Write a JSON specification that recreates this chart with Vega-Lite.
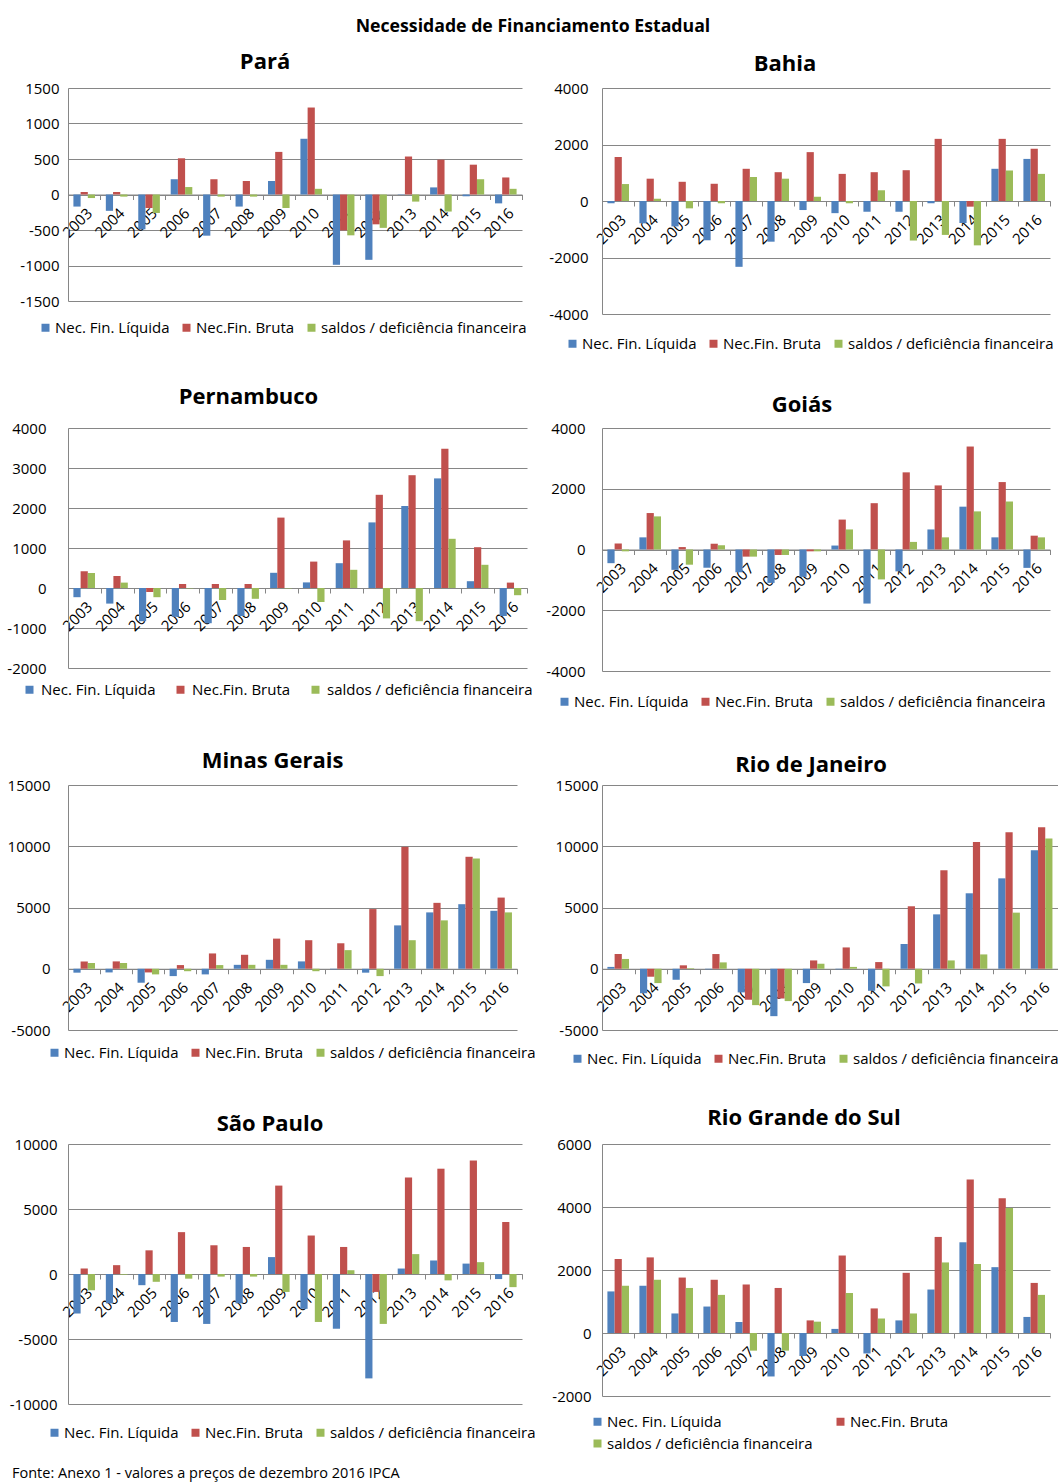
{
"$schema": "https://vega.github.io/schema/vega-lite/v6.json",
"title": {"text": "Necessidade de Financiamento Estadual", "fontSize": 17.7, "anchor": "middle", "frame": "bounds", "offset": 15},
"padding": {"left": 6, "top": 18, "right": 0, "bottom": 0},
"columns": 2,
"bounds": "flush",
"spacing": {"row": 114, "column": 75},
"resolve": {"scale": {"x": "independent", "y": "independent", "color": "independent"}, "legend": {"color": "independent"}},
"data": {"values": [
{"uf":"Pará","ano":"2003","serie":"liq","valor":-170},{"uf":"Pará","ano":"2003","serie":"bruta","valor":35},{"uf":"Pará","ano":"2003","serie":"saldo","valor":-50},
{"uf":"Pará","ano":"2004","serie":"liq","valor":-230},{"uf":"Pará","ano":"2004","serie":"bruta","valor":35},{"uf":"Pará","ano":"2004","serie":"saldo","valor":-30},
{"uf":"Pará","ano":"2005","serie":"liq","valor":-490},{"uf":"Pará","ano":"2005","serie":"bruta","valor":-190},{"uf":"Pará","ano":"2005","serie":"saldo","valor":-260},
{"uf":"Pará","ano":"2006","serie":"liq","valor":215},{"uf":"Pará","ano":"2006","serie":"bruta","valor":510},{"uf":"Pará","ano":"2006","serie":"saldo","valor":105},
{"uf":"Pará","ano":"2007","serie":"liq","valor":-580},{"uf":"Pará","ano":"2007","serie":"bruta","valor":215},{"uf":"Pará","ano":"2007","serie":"saldo","valor":-30},
{"uf":"Pará","ano":"2008","serie":"liq","valor":-170},{"uf":"Pará","ano":"2008","serie":"bruta","valor":190},{"uf":"Pará","ano":"2008","serie":"saldo","valor":-30},
{"uf":"Pará","ano":"2009","serie":"liq","valor":190},{"uf":"Pará","ano":"2009","serie":"bruta","valor":600},{"uf":"Pará","ano":"2009","serie":"saldo","valor":-190},
{"uf":"Pará","ano":"2010","serie":"liq","valor":785},{"uf":"Pará","ano":"2010","serie":"bruta","valor":1225},{"uf":"Pará","ano":"2010","serie":"saldo","valor":80},
{"uf":"Pará","ano":"2011","serie":"liq","valor":-990},{"uf":"Pará","ano":"2011","serie":"bruta","valor":-505},{"uf":"Pará","ano":"2011","serie":"saldo","valor":-575},
{"uf":"Pará","ano":"2012","serie":"liq","valor":-920},{"uf":"Pará","ano":"2012","serie":"bruta","valor":-420},{"uf":"Pará","ano":"2012","serie":"saldo","valor":-470},
{"uf":"Pará","ano":"2013","serie":"liq","valor":-5},{"uf":"Pará","ano":"2013","serie":"bruta","valor":535},{"uf":"Pará","ano":"2013","serie":"saldo","valor":-100},
{"uf":"Pará","ano":"2014","serie":"liq","valor":100},{"uf":"Pará","ano":"2014","serie":"bruta","valor":490},{"uf":"Pará","ano":"2014","serie":"saldo","valor":-240},
{"uf":"Pará","ano":"2015","serie":"liq","valor":-25},{"uf":"Pará","ano":"2015","serie":"bruta","valor":420},{"uf":"Pará","ano":"2015","serie":"saldo","valor":215},
{"uf":"Pará","ano":"2016","serie":"liq","valor":-125},{"uf":"Pará","ano":"2016","serie":"bruta","valor":240},{"uf":"Pará","ano":"2016","serie":"saldo","valor":80},
{"uf":"Bahia","ano":"2003","serie":"liq","valor":-80},{"uf":"Bahia","ano":"2003","serie":"bruta","valor":1560},{"uf":"Bahia","ano":"2003","serie":"saldo","valor":600},
{"uf":"Bahia","ano":"2004","serie":"liq","valor":-790},{"uf":"Bahia","ano":"2004","serie":"bruta","valor":790},{"uf":"Bahia","ano":"2004","serie":"saldo","valor":80},
{"uf":"Bahia","ano":"2005","serie":"liq","valor":-900},{"uf":"Bahia","ano":"2005","serie":"bruta","valor":680},{"uf":"Bahia","ano":"2005","serie":"saldo","valor":-260},
{"uf":"Bahia","ano":"2006","serie":"liq","valor":-1390},{"uf":"Bahia","ano":"2006","serie":"bruta","valor":610},{"uf":"Bahia","ano":"2006","serie":"saldo","valor":-80},
{"uf":"Bahia","ano":"2007","serie":"liq","valor":-2330},{"uf":"Bahia","ano":"2007","serie":"bruta","valor":1140},{"uf":"Bahia","ano":"2007","serie":"saldo","valor":850},
{"uf":"Bahia","ano":"2008","serie":"liq","valor":-1440},{"uf":"Bahia","ano":"2008","serie":"bruta","valor":1020},{"uf":"Bahia","ano":"2008","serie":"saldo","valor":790},
{"uf":"Bahia","ano":"2009","serie":"liq","valor":-320},{"uf":"Bahia","ano":"2009","serie":"bruta","valor":1730},{"uf":"Bahia","ano":"2009","serie":"saldo","valor":150},
{"uf":"Bahia","ano":"2010","serie":"liq","valor":-430},{"uf":"Bahia","ano":"2010","serie":"bruta","valor":960},{"uf":"Bahia","ano":"2010","serie":"saldo","valor":-80},
{"uf":"Bahia","ano":"2011","serie":"liq","valor":-380},{"uf":"Bahia","ano":"2011","serie":"bruta","valor":1020},{"uf":"Bahia","ano":"2011","serie":"saldo","valor":380},
{"uf":"Bahia","ano":"2012","serie":"liq","valor":-380},{"uf":"Bahia","ano":"2012","serie":"bruta","valor":1090},{"uf":"Bahia","ano":"2012","serie":"saldo","valor":-1400},
{"uf":"Bahia","ano":"2013","serie":"liq","valor":-80},{"uf":"Bahia","ano":"2013","serie":"bruta","valor":2200},{"uf":"Bahia","ano":"2013","serie":"saldo","valor":-1200},
{"uf":"Bahia","ano":"2014","serie":"liq","valor":-780},{"uf":"Bahia","ano":"2014","serie":"bruta","valor":-200},{"uf":"Bahia","ano":"2014","serie":"saldo","valor":-1570},
{"uf":"Bahia","ano":"2015","serie":"liq","valor":1140},{"uf":"Bahia","ano":"2015","serie":"bruta","valor":2200},{"uf":"Bahia","ano":"2015","serie":"saldo","valor":1080},
{"uf":"Bahia","ano":"2016","serie":"liq","valor":1490},{"uf":"Bahia","ano":"2016","serie":"bruta","valor":1850},{"uf":"Bahia","ano":"2016","serie":"saldo","valor":960},
{"uf":"Pernambuco","ano":"2003","serie":"liq","valor":-230},{"uf":"Pernambuco","ano":"2003","serie":"bruta","valor":420},{"uf":"Pernambuco","ano":"2003","serie":"saldo","valor":375},
{"uf":"Pernambuco","ano":"2004","serie":"liq","valor":-390},{"uf":"Pernambuco","ano":"2004","serie":"bruta","valor":300},{"uf":"Pernambuco","ano":"2004","serie":"saldo","valor":135},
{"uf":"Pernambuco","ano":"2005","serie":"liq","valor":-830},{"uf":"Pernambuco","ano":"2005","serie":"bruta","valor":-100},{"uf":"Pernambuco","ano":"2005","serie":"saldo","valor":-230},
{"uf":"Pernambuco","ano":"2006","serie":"liq","valor":-720},{"uf":"Pernambuco","ano":"2006","serie":"bruta","valor":100},{"uf":"Pernambuco","ano":"2006","serie":"saldo","valor":-10},
{"uf":"Pernambuco","ano":"2007","serie":"liq","valor":-880},{"uf":"Pernambuco","ano":"2007","serie":"bruta","valor":100},{"uf":"Pernambuco","ano":"2007","serie":"saldo","valor":-300},
{"uf":"Pernambuco","ano":"2008","serie":"liq","valor":-700},{"uf":"Pernambuco","ano":"2008","serie":"bruta","valor":100},{"uf":"Pernambuco","ano":"2008","serie":"saldo","valor":-270},
{"uf":"Pernambuco","ano":"2009","serie":"liq","valor":380},{"uf":"Pernambuco","ano":"2009","serie":"bruta","valor":1760},{"uf":"Pernambuco","ano":"2009","serie":"saldo","valor":-10},
{"uf":"Pernambuco","ano":"2010","serie":"liq","valor":140},{"uf":"Pernambuco","ano":"2010","serie":"bruta","valor":660},{"uf":"Pernambuco","ano":"2010","serie":"saldo","valor":-350},
{"uf":"Pernambuco","ano":"2011","serie":"liq","valor":620},{"uf":"Pernambuco","ano":"2011","serie":"bruta","valor":1190},{"uf":"Pernambuco","ano":"2011","serie":"saldo","valor":455},
{"uf":"Pernambuco","ano":"2012","serie":"liq","valor":1640},{"uf":"Pernambuco","ano":"2012","serie":"bruta","valor":2330},{"uf":"Pernambuco","ano":"2012","serie":"saldo","valor":-760},
{"uf":"Pernambuco","ano":"2013","serie":"liq","valor":2050},{"uf":"Pernambuco","ano":"2013","serie":"bruta","valor":2820},{"uf":"Pernambuco","ano":"2013","serie":"saldo","valor":-830},
{"uf":"Pernambuco","ano":"2014","serie":"liq","valor":2740},{"uf":"Pernambuco","ano":"2014","serie":"bruta","valor":3480},{"uf":"Pernambuco","ano":"2014","serie":"saldo","valor":1230},
{"uf":"Pernambuco","ano":"2015","serie":"liq","valor":170},{"uf":"Pernambuco","ano":"2015","serie":"bruta","valor":1020},{"uf":"Pernambuco","ano":"2015","serie":"saldo","valor":580},
{"uf":"Pernambuco","ano":"2016","serie":"liq","valor":-700},{"uf":"Pernambuco","ano":"2016","serie":"bruta","valor":135},{"uf":"Pernambuco","ano":"2016","serie":"saldo","valor":-180},
{"uf":"Goiás","ano":"2003","serie":"liq","valor":-450},{"uf":"Goiás","ano":"2003","serie":"bruta","valor":195},{"uf":"Goiás","ano":"2003","serie":"saldo","valor":-60},
{"uf":"Goiás","ano":"2004","serie":"liq","valor":400},{"uf":"Goiás","ano":"2004","serie":"bruta","valor":1200},{"uf":"Goiás","ano":"2004","serie":"saldo","valor":1090},
{"uf":"Goiás","ano":"2005","serie":"liq","valor":-670},{"uf":"Goiás","ano":"2005","serie":"bruta","valor":80},{"uf":"Goiás","ano":"2005","serie":"saldo","valor":-500},
{"uf":"Goiás","ano":"2006","serie":"liq","valor":-600},{"uf":"Goiás","ano":"2006","serie":"bruta","valor":190},{"uf":"Goiás","ano":"2006","serie":"saldo","valor":140},
{"uf":"Goiás","ano":"2007","serie":"liq","valor":-750},{"uf":"Goiás","ano":"2007","serie":"bruta","valor":-235},{"uf":"Goiás","ano":"2007","serie":"saldo","valor":-235},
{"uf":"Goiás","ano":"2008","serie":"liq","valor":-1100},{"uf":"Goiás","ano":"2008","serie":"bruta","valor":-180},{"uf":"Goiás","ano":"2008","serie":"saldo","valor":-180},
{"uf":"Goiás","ano":"2009","serie":"liq","valor":-900},{"uf":"Goiás","ano":"2009","serie":"bruta","valor":-60},{"uf":"Goiás","ano":"2009","serie":"saldo","valor":-60},
{"uf":"Goiás","ano":"2010","serie":"liq","valor":130},{"uf":"Goiás","ano":"2010","serie":"bruta","valor":985},{"uf":"Goiás","ano":"2010","serie":"saldo","valor":660},
{"uf":"Goiás","ano":"2011","serie":"liq","valor":-1780},{"uf":"Goiás","ano":"2011","serie":"bruta","valor":1525},{"uf":"Goiás","ano":"2011","serie":"saldo","valor":-985},
{"uf":"Goiás","ano":"2012","serie":"liq","valor":-720},{"uf":"Goiás","ano":"2012","serie":"bruta","valor":2540},{"uf":"Goiás","ano":"2012","serie":"saldo","valor":250},
{"uf":"Goiás","ano":"2013","serie":"liq","valor":660},{"uf":"Goiás","ano":"2013","serie":"bruta","valor":2110},{"uf":"Goiás","ano":"2013","serie":"saldo","valor":400},
{"uf":"Goiás","ano":"2014","serie":"liq","valor":1410},{"uf":"Goiás","ano":"2014","serie":"bruta","valor":3390},{"uf":"Goiás","ano":"2014","serie":"saldo","valor":1255},
{"uf":"Goiás","ano":"2015","serie":"liq","valor":400},{"uf":"Goiás","ano":"2015","serie":"bruta","valor":2220},{"uf":"Goiás","ano":"2015","serie":"saldo","valor":1580},
{"uf":"Goiás","ano":"2016","serie":"liq","valor":-605},{"uf":"Goiás","ano":"2016","serie":"bruta","valor":455},{"uf":"Goiás","ano":"2016","serie":"saldo","valor":400},
{"uf":"Minas Gerais","ano":"2003","serie":"liq","valor":-320},{"uf":"Minas Gerais","ano":"2003","serie":"bruta","valor":600},{"uf":"Minas Gerais","ano":"2003","serie":"saldo","valor":470},
{"uf":"Minas Gerais","ano":"2004","serie":"liq","valor":-300},{"uf":"Minas Gerais","ano":"2004","serie":"bruta","valor":600},{"uf":"Minas Gerais","ano":"2004","serie":"saldo","valor":470},
{"uf":"Minas Gerais","ano":"2005","serie":"liq","valor":-1140},{"uf":"Minas Gerais","ano":"2005","serie":"bruta","valor":-300},{"uf":"Minas Gerais","ano":"2005","serie":"saldo","valor":-460},
{"uf":"Minas Gerais","ano":"2006","serie":"liq","valor":-600},{"uf":"Minas Gerais","ano":"2006","serie":"bruta","valor":300},{"uf":"Minas Gerais","ano":"2006","serie":"saldo","valor":-200},
{"uf":"Minas Gerais","ano":"2007","serie":"liq","valor":-460},{"uf":"Minas Gerais","ano":"2007","serie":"bruta","valor":1250},{"uf":"Minas Gerais","ano":"2007","serie":"saldo","valor":300},
{"uf":"Minas Gerais","ano":"2008","serie":"liq","valor":320},{"uf":"Minas Gerais","ano":"2008","serie":"bruta","valor":1140},{"uf":"Minas Gerais","ano":"2008","serie":"saldo","valor":320},
{"uf":"Minas Gerais","ano":"2009","serie":"liq","valor":730},{"uf":"Minas Gerais","ano":"2009","serie":"bruta","valor":2460},{"uf":"Minas Gerais","ano":"2009","serie":"saldo","valor":320},
{"uf":"Minas Gerais","ano":"2010","serie":"liq","valor":600},{"uf":"Minas Gerais","ano":"2010","serie":"bruta","valor":2330},{"uf":"Minas Gerais","ano":"2010","serie":"saldo","valor":-200},
{"uf":"Minas Gerais","ano":"2011","serie":"liq","valor":-50},{"uf":"Minas Gerais","ano":"2011","serie":"bruta","valor":2080},{"uf":"Minas Gerais","ano":"2011","serie":"saldo","valor":1520},
{"uf":"Minas Gerais","ano":"2012","serie":"liq","valor":-320},{"uf":"Minas Gerais","ano":"2012","serie":"bruta","valor":4870},{"uf":"Minas Gerais","ano":"2012","serie":"saldo","valor":-600},
{"uf":"Minas Gerais","ano":"2013","serie":"liq","valor":3540},{"uf":"Minas Gerais","ano":"2013","serie":"bruta","valor":9950},{"uf":"Minas Gerais","ano":"2013","serie":"saldo","valor":2330},
{"uf":"Minas Gerais","ano":"2014","serie":"liq","valor":4600},{"uf":"Minas Gerais","ano":"2014","serie":"bruta","valor":5380},{"uf":"Minas Gerais","ano":"2014","serie":"saldo","valor":3950},
{"uf":"Minas Gerais","ano":"2015","serie":"liq","valor":5270},{"uf":"Minas Gerais","ano":"2015","serie":"bruta","valor":9140},{"uf":"Minas Gerais","ano":"2015","serie":"saldo","valor":9000},
{"uf":"Minas Gerais","ano":"2016","serie":"liq","valor":4730},{"uf":"Minas Gerais","ano":"2016","serie":"bruta","valor":5810},{"uf":"Minas Gerais","ano":"2016","serie":"saldo","valor":4600},
{"uf":"Rio de Janeiro","ano":"2003","serie":"liq","valor":150},{"uf":"Rio de Janeiro","ano":"2003","serie":"bruta","valor":1200},{"uf":"Rio de Janeiro","ano":"2003","serie":"saldo","valor":800},
{"uf":"Rio de Janeiro","ano":"2004","serie":"liq","valor":-2000},{"uf":"Rio de Janeiro","ano":"2004","serie":"bruta","valor":-650},{"uf":"Rio de Janeiro","ano":"2004","serie":"saldo","valor":-1170},
{"uf":"Rio de Janeiro","ano":"2005","serie":"liq","valor":-900},{"uf":"Rio de Janeiro","ano":"2005","serie":"bruta","valor":280},{"uf":"Rio de Janeiro","ano":"2005","serie":"saldo","valor":50},
{"uf":"Rio de Janeiro","ano":"2006","serie":"liq","valor":-50},{"uf":"Rio de Janeiro","ano":"2006","serie":"bruta","valor":1200},{"uf":"Rio de Janeiro","ano":"2006","serie":"saldo","valor":520},
{"uf":"Rio de Janeiro","ano":"2007","serie":"liq","valor":-1930},{"uf":"Rio de Janeiro","ano":"2007","serie":"bruta","valor":-2530},{"uf":"Rio de Janeiro","ano":"2007","serie":"saldo","valor":-2970},
{"uf":"Rio de Janeiro","ano":"2008","serie":"liq","valor":-3870},{"uf":"Rio de Janeiro","ano":"2008","serie":"bruta","valor":-2430},{"uf":"Rio de Janeiro","ano":"2008","serie":"saldo","valor":-2640},
{"uf":"Rio de Janeiro","ano":"2009","serie":"liq","valor":-1170},{"uf":"Rio de Janeiro","ano":"2009","serie":"bruta","valor":680},{"uf":"Rio de Janeiro","ano":"2009","serie":"saldo","valor":410},
{"uf":"Rio de Janeiro","ano":"2010","serie":"liq","valor":-50},{"uf":"Rio de Janeiro","ano":"2010","serie":"bruta","valor":1740},{"uf":"Rio de Janeiro","ano":"2010","serie":"saldo","valor":150},
{"uf":"Rio de Janeiro","ano":"2011","serie":"liq","valor":-1800},{"uf":"Rio de Janeiro","ano":"2011","serie":"bruta","valor":545},{"uf":"Rio de Janeiro","ano":"2011","serie":"saldo","valor":-1440},
{"uf":"Rio de Janeiro","ano":"2012","serie":"liq","valor":2020},{"uf":"Rio de Janeiro","ano":"2012","serie":"bruta","valor":5100},{"uf":"Rio de Janeiro","ano":"2012","serie":"saldo","valor":-1200},
{"uf":"Rio de Janeiro","ano":"2013","serie":"liq","valor":4440},{"uf":"Rio de Janeiro","ano":"2013","serie":"bruta","valor":8040},{"uf":"Rio de Janeiro","ano":"2013","serie":"saldo","valor":680},
{"uf":"Rio de Janeiro","ano":"2014","serie":"liq","valor":6160},{"uf":"Rio de Janeiro","ano":"2014","serie":"bruta","valor":10350},{"uf":"Rio de Janeiro","ano":"2014","serie":"saldo","valor":1170},
{"uf":"Rio de Janeiro","ano":"2015","serie":"liq","valor":7380},{"uf":"Rio de Janeiro","ano":"2015","serie":"bruta","valor":11140},{"uf":"Rio de Janeiro","ano":"2015","serie":"saldo","valor":4580},
{"uf":"Rio de Janeiro","ano":"2016","serie":"liq","valor":9670},{"uf":"Rio de Janeiro","ano":"2016","serie":"bruta","valor":11550},{"uf":"Rio de Janeiro","ano":"2016","serie":"saldo","valor":10630},
{"uf":"São Paulo","ano":"2003","serie":"liq","valor":-3040},{"uf":"São Paulo","ano":"2003","serie":"bruta","valor":420},{"uf":"São Paulo","ano":"2003","serie":"saldo","valor":-1250},
{"uf":"São Paulo","ano":"2004","serie":"liq","valor":-2260},{"uf":"São Paulo","ano":"2004","serie":"bruta","valor":680},{"uf":"São Paulo","ano":"2004","serie":"saldo","valor":-50},
{"uf":"São Paulo","ano":"2005","serie":"liq","valor":-860},{"uf":"São Paulo","ano":"2005","serie":"bruta","valor":1820},{"uf":"São Paulo","ano":"2005","serie":"saldo","valor":-600},
{"uf":"São Paulo","ano":"2006","serie":"liq","valor":-3690},{"uf":"São Paulo","ano":"2006","serie":"bruta","valor":3220},{"uf":"São Paulo","ano":"2006","serie":"saldo","valor":-360},
{"uf":"São Paulo","ano":"2007","serie":"liq","valor":-3840},{"uf":"São Paulo","ano":"2007","serie":"bruta","valor":2210},{"uf":"São Paulo","ano":"2007","serie":"saldo","valor":-200},
{"uf":"São Paulo","ano":"2008","serie":"liq","valor":-2260},{"uf":"São Paulo","ano":"2008","serie":"bruta","valor":2080},{"uf":"São Paulo","ano":"2008","serie":"saldo","valor":-200},
{"uf":"São Paulo","ano":"2009","serie":"liq","valor":1300},{"uf":"São Paulo","ano":"2009","serie":"bruta","valor":6800},{"uf":"São Paulo","ano":"2009","serie":"saldo","valor":-1380},
{"uf":"São Paulo","ano":"2010","serie":"liq","valor":-2680},{"uf":"São Paulo","ano":"2010","serie":"bruta","valor":2960},{"uf":"São Paulo","ano":"2010","serie":"saldo","valor":-3690},
{"uf":"São Paulo","ano":"2011","serie":"liq","valor":-4210},{"uf":"São Paulo","ano":"2011","serie":"bruta","valor":2080},{"uf":"São Paulo","ano":"2011","serie":"saldo","valor":290},
{"uf":"São Paulo","ano":"2012","serie":"liq","valor":-8030},{"uf":"São Paulo","ano":"2012","serie":"bruta","valor":-1380},{"uf":"São Paulo","ano":"2012","serie":"saldo","valor":-3840},
{"uf":"São Paulo","ano":"2013","serie":"liq","valor":420},{"uf":"São Paulo","ano":"2013","serie":"bruta","valor":7430},{"uf":"São Paulo","ano":"2013","serie":"saldo","valor":1530},
{"uf":"São Paulo","ano":"2014","serie":"liq","valor":1040},{"uf":"São Paulo","ano":"2014","serie":"bruta","valor":8100},{"uf":"São Paulo","ano":"2014","serie":"saldo","valor":-490},
{"uf":"São Paulo","ano":"2015","serie":"liq","valor":800},{"uf":"São Paulo","ano":"2015","serie":"bruta","valor":8730},{"uf":"São Paulo","ano":"2015","serie":"saldo","valor":910},
{"uf":"São Paulo","ano":"2016","serie":"liq","valor":-390},{"uf":"São Paulo","ano":"2016","serie":"bruta","valor":4000},{"uf":"São Paulo","ano":"2016","serie":"saldo","valor":-1010},
{"uf":"Rio Grande do Sul","ano":"2003","serie":"liq","valor":1320},{"uf":"Rio Grande do Sul","ano":"2003","serie":"bruta","valor":2350},{"uf":"Rio Grande do Sul","ano":"2003","serie":"saldo","valor":1500},
{"uf":"Rio Grande do Sul","ano":"2004","serie":"liq","valor":1500},{"uf":"Rio Grande do Sul","ano":"2004","serie":"bruta","valor":2400},{"uf":"Rio Grande do Sul","ano":"2004","serie":"saldo","valor":1690},
{"uf":"Rio Grande do Sul","ano":"2005","serie":"liq","valor":620},{"uf":"Rio Grande do Sul","ano":"2005","serie":"bruta","valor":1760},{"uf":"Rio Grande do Sul","ano":"2005","serie":"saldo","valor":1430},
{"uf":"Rio Grande do Sul","ano":"2006","serie":"liq","valor":840},{"uf":"Rio Grande do Sul","ano":"2006","serie":"bruta","valor":1690},{"uf":"Rio Grande do Sul","ano":"2006","serie":"saldo","valor":1210},
{"uf":"Rio Grande do Sul","ano":"2007","serie":"liq","valor":350},{"uf":"Rio Grande do Sul","ano":"2007","serie":"bruta","valor":1540},{"uf":"Rio Grande do Sul","ano":"2007","serie":"saldo","valor":-560},
{"uf":"Rio Grande do Sul","ano":"2008","serie":"liq","valor":-1380},{"uf":"Rio Grande do Sul","ano":"2008","serie":"bruta","valor":1430},{"uf":"Rio Grande do Sul","ano":"2008","serie":"saldo","valor":-560},
{"uf":"Rio Grande do Sul","ano":"2009","serie":"liq","valor":-730},{"uf":"Rio Grande do Sul","ano":"2009","serie":"bruta","valor":400},{"uf":"Rio Grande do Sul","ano":"2009","serie":"saldo","valor":360},
{"uf":"Rio Grande do Sul","ano":"2010","serie":"liq","valor":130},{"uf":"Rio Grande do Sul","ano":"2010","serie":"bruta","valor":2460},{"uf":"Rio Grande do Sul","ano":"2010","serie":"saldo","valor":1270},
{"uf":"Rio Grande do Sul","ano":"2011","serie":"liq","valor":-650},{"uf":"Rio Grande do Sul","ano":"2011","serie":"bruta","valor":780},{"uf":"Rio Grande do Sul","ano":"2011","serie":"saldo","valor":460},
{"uf":"Rio Grande do Sul","ano":"2012","serie":"liq","valor":400},{"uf":"Rio Grande do Sul","ano":"2012","serie":"bruta","valor":1910},{"uf":"Rio Grande do Sul","ano":"2012","serie":"saldo","valor":620},
{"uf":"Rio Grande do Sul","ano":"2013","serie":"liq","valor":1380},{"uf":"Rio Grande do Sul","ano":"2013","serie":"bruta","valor":3050},{"uf":"Rio Grande do Sul","ano":"2013","serie":"saldo","valor":2240},
{"uf":"Rio Grande do Sul","ano":"2014","serie":"liq","valor":2880},{"uf":"Rio Grande do Sul","ano":"2014","serie":"bruta","valor":4870},{"uf":"Rio Grande do Sul","ano":"2014","serie":"saldo","valor":2190},
{"uf":"Rio Grande do Sul","ano":"2015","serie":"liq","valor":2090},{"uf":"Rio Grande do Sul","ano":"2015","serie":"bruta","valor":4280},{"uf":"Rio Grande do Sul","ano":"2015","serie":"saldo","valor":3970},
{"uf":"Rio Grande do Sul","ano":"2016","serie":"liq","valor":510},{"uf":"Rio Grande do Sul","ano":"2016","serie":"bruta","valor":1590},{"uf":"Rio Grande do Sul","ano":"2016","serie":"saldo","valor":1210}
]},
"concat": [
{"title": {"text": "Pará", "dx": -30, "offset": 7}, "width": 454, "height": 213,
 "transform": [{"filter": "datum.uf == 'Pará'"}], "mark": "bar",
 "encoding": {
  "x": {"field": "ano", "type": "ordinal", "title": null, "scale": {"paddingInner": 0, "paddingOuter": 0}, "axis": {"offset": -106.5}},
  "xOffset": {"field": "serie", "type": "nominal", "scale": {"domain": ["liq","bruta","saldo"], "paddingInner": 0, "paddingOuter": 0.75}},
  "y": {"field": "valor", "type": "quantitative", "title": null, "scale": {"domain": [-1500,1500], "nice": false, "zero": false}, "axis": {"values": [-1500,-1000,-500,0,500,1000,1500], "labelPadding": 9, "labelExpr": "'' + datum.value"}},
  "color": {"field": "serie", "type": "nominal", "title": null, "scale": {"domain": ["liq","bruta","saldo"], "range": ["#4F81BD","#C0504D","#9BBB59"]}, "legend": {"legendX": -30, "legendY": 232, "labelExpr": "datum.label == 'liq' ? 'Nec. Fin. Líquida' : datum.label == 'bruta' ? 'Nec.Fin. Bruta' : 'saldos / deficiência financeira'"}}
 }},
{"title": {"text": "Bahia", "dx": -41, "offset": 5}, "width": 448, "height": 226,
 "transform": [{"filter": "datum.uf == 'Bahia'"}], "mark": "bar",
 "encoding": {
  "x": {"field": "ano", "type": "ordinal", "title": null, "scale": {"paddingInner": 0, "paddingOuter": 0}, "axis": {"offset": -113}},
  "xOffset": {"field": "serie", "type": "nominal", "scale": {"domain": ["liq","bruta","saldo"], "paddingInner": 0, "paddingOuter": 0.75}},
  "y": {"field": "valor", "type": "quantitative", "title": null, "scale": {"domain": [-4000,4000], "nice": false, "zero": false}, "axis": {"values": [-4000,-2000,0,2000,4000], "labelPadding": 14, "labelExpr": "'' + datum.value"}},
  "color": {"field": "serie", "type": "nominal", "title": null, "scale": {"domain": ["liq","bruta","saldo"], "range": ["#4F81BD","#C0504D","#9BBB59"]}, "legend": {"legendX": -37, "legendY": 248, "labelExpr": "datum.label == 'liq' ? 'Nec. Fin. Líquida' : datum.label == 'bruta' ? 'Nec.Fin. Bruta' : 'saldos / deficiência financeira'"}}
 }},
{"title": {"text": "Pernambuco", "dx": -49, "offset": 12}, "width": 459, "height": 240,
 "transform": [{"filter": "datum.uf == 'Pernambuco'"}], "mark": "bar",
 "encoding": {
  "x": {"field": "ano", "type": "ordinal", "title": null, "scale": {"paddingInner": 0, "paddingOuter": 0}, "axis": {"offset": -80}},
  "xOffset": {"field": "serie", "type": "nominal", "scale": {"domain": ["liq","bruta","saldo"], "paddingInner": 0, "paddingOuter": 0.75}},
  "y": {"field": "valor", "type": "quantitative", "title": null, "scale": {"domain": [-2000,4000], "nice": false, "zero": false}, "axis": {"values": [-2000,-1000,0,1000,2000,3000,4000], "labelPadding": 22, "labelExpr": "'' + datum.value"}},
  "color": {"field": "serie", "type": "nominal", "title": null, "scale": {"domain": ["liq","bruta","saldo"], "range": ["#4F81BD","#C0504D","#9BBB59"]}, "legend": {"legendX": -46, "legendY": 254, "columnPadding": 17, "labelOffset": 4, "labelExpr": "datum.label == 'liq' ? 'Nec. Fin. Líquida' : datum.label == 'bruta' ? 'Nec.Fin. Bruta' : 'saldos / deficiência financeira'"}}
 }},
{"title": {"text": "Goiás", "dx": -24, "offset": 4}, "width": 448, "height": 243,
 "transform": [{"filter": "datum.uf == 'Goiás'"}], "mark": "bar",
 "encoding": {
  "x": {"field": "ano", "type": "ordinal", "title": null, "scale": {"paddingInner": 0, "paddingOuter": 0}, "axis": {"offset": -121.5}},
  "xOffset": {"field": "serie", "type": "nominal", "scale": {"domain": ["liq","bruta","saldo"], "paddingInner": 0, "paddingOuter": 0.75}},
  "y": {"field": "valor", "type": "quantitative", "title": null, "scale": {"domain": [-4000,4000], "nice": false, "zero": false}, "axis": {"values": [-4000,-2000,0,2000,4000], "labelPadding": 17, "labelExpr": "'' + datum.value"}},
  "color": {"field": "serie", "type": "nominal", "title": null, "scale": {"domain": ["liq","bruta","saldo"], "range": ["#4F81BD","#C0504D","#9BBB59"]}, "legend": {"legendX": -45, "legendY": 266, "labelExpr": "datum.label == 'liq' ? 'Nec. Fin. Líquida' : datum.label == 'bruta' ? 'Nec.Fin. Bruta' : 'saldos / deficiência financeira'"}}
 }},
{"title": {"text": "Minas Gerais", "dx": -20, "offset": 5}, "width": 449, "height": 245,
 "transform": [{"filter": "datum.uf == 'Minas Gerais'"}], "mark": "bar",
 "encoding": {
  "x": {"field": "ano", "type": "ordinal", "title": null, "scale": {"paddingInner": 0, "paddingOuter": 0}, "axis": {"offset": -61.25}},
  "xOffset": {"field": "serie", "type": "nominal", "scale": {"domain": ["liq","bruta","saldo"], "paddingInner": 0, "paddingOuter": 0.75}},
  "y": {"field": "valor", "type": "quantitative", "title": null, "scale": {"domain": [-5000,15000], "nice": false, "zero": false}, "axis": {"values": [-5000,0,5000,10000,15000], "labelPadding": 18, "labelExpr": "'' + datum.value"}},
  "color": {"field": "serie", "type": "nominal", "title": null, "scale": {"domain": ["liq","bruta","saldo"], "range": ["#4F81BD","#C0504D","#9BBB59"]}, "legend": {"legendX": -21, "legendY": 260, "labelExpr": "datum.label == 'liq' ? 'Nec. Fin. Líquida' : datum.label == 'bruta' ? 'Nec.Fin. Bruta' : 'saldos / deficiência financeira'"}}
 }},
{"title": {"text": "Rio de Janeiro", "dx": -19, "offset": 1}, "width": 456, "height": 245,
 "transform": [{"filter": "datum.uf == 'Rio de Janeiro'"}], "mark": "bar",
 "encoding": {
  "x": {"field": "ano", "type": "ordinal", "title": null, "scale": {"paddingInner": 0, "paddingOuter": 0}, "axis": {"offset": -61.25}},
  "xOffset": {"field": "serie", "type": "nominal", "scale": {"domain": ["liq","bruta","saldo"], "paddingInner": 0, "paddingOuter": 0.75}},
  "y": {"field": "valor", "type": "quantitative", "title": null, "scale": {"domain": [-5000,15000], "nice": false, "zero": false}, "axis": {"values": [-5000,0,5000,10000,15000], "labelPadding": 4, "labelExpr": "'' + datum.value"}},
  "color": {"field": "serie", "type": "nominal", "title": null, "scale": {"domain": ["liq","bruta","saldo"], "range": ["#4F81BD","#C0504D","#9BBB59"]}, "legend": {"legendX": -32, "legendY": 266, "labelExpr": "datum.label == 'liq' ? 'Nec. Fin. Líquida' : datum.label == 'bruta' ? 'Nec.Fin. Bruta' : 'saldos / deficiência financeira'"}}
 }},
{"title": {"text": "São Paulo", "dx": -25, "offset": 1}, "width": 454, "height": 260,
 "transform": [{"filter": "datum.uf == 'São Paulo'"}], "mark": "bar",
 "encoding": {
  "x": {"field": "ano", "type": "ordinal", "title": null, "scale": {"paddingInner": 0, "paddingOuter": 0}, "axis": {"offset": -130}},
  "xOffset": {"field": "serie", "type": "nominal", "scale": {"domain": ["liq","bruta","saldo"], "paddingInner": 0, "paddingOuter": 0.75}},
  "y": {"field": "valor", "type": "quantitative", "title": null, "scale": {"domain": [-10000,10000], "nice": false, "zero": false}, "axis": {"values": [-10000,-5000,0,5000,10000], "labelPadding": 11, "labelExpr": "'' + datum.value"}},
  "color": {"field": "serie", "type": "nominal", "title": null, "scale": {"domain": ["liq","bruta","saldo"], "range": ["#4F81BD","#C0504D","#9BBB59"]}, "legend": {"legendX": -21, "legendY": 281, "labelExpr": "datum.label == 'liq' ? 'Nec. Fin. Líquida' : datum.label == 'bruta' ? 'Nec.Fin. Bruta' : 'saldos / deficiência financeira'"}}
 }},
{"title": {"text": "Rio Grande do Sul", "dx": -22, "offset": 7}, "width": 448, "height": 252,
 "transform": [{"filter": "datum.uf == 'Rio Grande do Sul'"}], "mark": "bar",
 "encoding": {
  "x": {"field": "ano", "type": "ordinal", "title": null, "scale": {"paddingInner": 0, "paddingOuter": 0}, "axis": {"offset": -63}},
  "xOffset": {"field": "serie", "type": "nominal", "scale": {"domain": ["liq","bruta","saldo"], "paddingInner": 0, "paddingOuter": 0.75}},
  "y": {"field": "valor", "type": "quantitative", "title": null, "scale": {"domain": [-2000,6000], "nice": false, "zero": false}, "axis": {"values": [-2000,0,2000,4000,6000], "labelPadding": 11, "labelExpr": "'' + datum.value"}},
  "color": {"field": "serie", "type": "nominal", "title": null, "scale": {"domain": ["liq","bruta","saldo"], "range": ["#4F81BD","#C0504D","#9BBB59"]}, "legend": {"legendX": -12, "legendY": 270, "columns": 2, "columnPadding": 20, "rowPadding": 6, "labelExpr": "datum.label == 'liq' ? 'Nec. Fin. Líquida' : datum.label == 'bruta' ? 'Nec.Fin. Bruta' : 'saldos / deficiência financeira'"}}
 }},
{"title": {"text": "Fonte: Anexo 1 - valores a preços de dezembro 2016 IPCA", "anchor": "start", "fontSize": 14.5, "fontWeight": "normal", "offset": 37, "dx": -56},
 "width": 440, "height": 1,
 "transform": [{"filter": "false"}], "mark": "point", "encoding": {}}
],
"config": {
 "font": "Open Sans",
 "view": {"stroke": null},
 "axis": {"labelFont": "Open Sans", "labelFontSize": 15, "labelColor": "#000000", "domainColor": "#868686", "gridColor": "#868686", "tickColor": "#868686"},
 "axisY": {"ticks": false, "grid": true, "domain": true},
 "axisX": {"grid": false, "labelAngle": -45, "tickBand": "extent", "tickSize": 5, "labelPadding": 6, "zindex": 1},
 "legend": {"orient": "none", "direction": "horizontal", "symbolType": "square", "symbolSize": 64, "symbolStrokeWidth": 0, "labelFont": "Open Sans", "labelFontSize": 15, "labelColor": "#000000", "labelLimit": 400, "columnPadding": 9, "labelOffset": 2},
 "title": {"font": "Open Sans", "fontSize": 22, "fontWeight": "bold", "color": "#000000", "anchor": "middle", "frame": "group"}
}
}
